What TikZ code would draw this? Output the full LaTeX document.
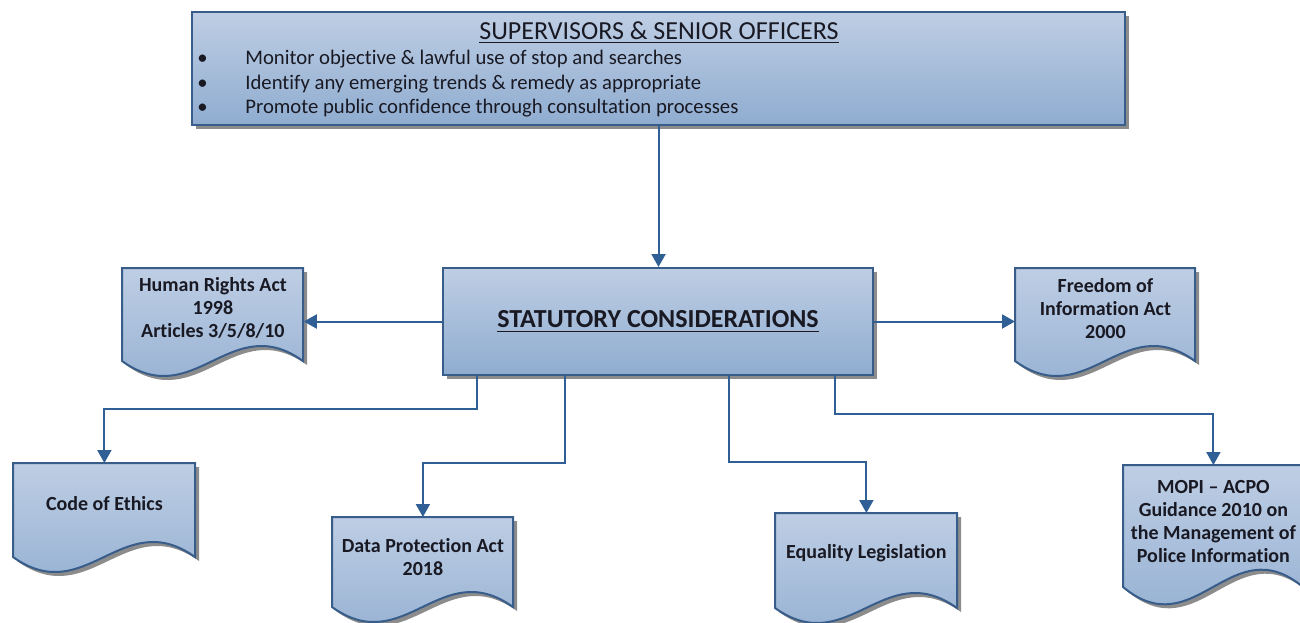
\documentclass[tikz,border=0pt]{standalone}
\usepackage{fontspec}
\setmainfont{Carlito}[Ligatures=NoCommon]
\usetikzlibrary{arrows.meta,shadows,backgrounds,calc}
\definecolor{bordc}{RGB}{56,93,138}
\definecolor{connc}{RGB}{47,95,148}
\definecolor{filltop}{RGB}{190,206,228}
\definecolor{fillbot}{RGB}{143,172,208}
\definecolor{shadc}{RGB}{140,140,140}
\definecolor{txtc}{RGB}{25,25,35}
\tikzset{
 boxfill/.style={top color=filltop,bottom color=fillbot,draw=bordc,line width=1pt},
 mainbox/.style={boxfill,drop shadow={shadow xshift=2pt,shadow yshift=-2pt,fill=shadc,opacity=1},inner sep=0pt,text=txtc},
 docnode/.style={inner sep=0pt,anchor=north west,align=center,text=txtc,font=\fontsize{10}{11.5}\selectfont\bfseries},
 conn/.style={draw=connc,line width=1pt,-{Triangle[width=7pt,length=6.5pt]}},
 bullettext/.style={anchor=west,font=\fontsize{10.35}{12}\selectfont,text=txtc,inner sep=0pt}
}
\newcommand\docbox[8]{%
 \begin{pgfonlayer}{background}
 \begin{scope}[shift={(#2,#3)}]
 \fill[shadc] (4,4) -- (4,{#5+4}) .. controls ({0.4*#4+4},{#5+#7+4}) and ({0.6*#4+4},{#5-#7+4}) .. ({#4+4},{#5+4}) -- ({#4+4},4) -- cycle;
 \shadedraw[boxfill] (0,0) -- (0,#5) .. controls ({0.4*#4},{#5+#7}) and ({0.6*#4},{#5-#7}) .. (#4,#5) -- (#4,0) -- cycle;
 \end{scope}
 \end{pgfonlayer}
 \node[docnode,minimum width={#4*0.5pt},minimum height={#6*0.5pt}] (#1) at (#2,#3) {#8};
}
\begin{document}
\begin{tikzpicture}[x=0.5pt,y=-0.5pt]
\useasboundingbox (0,0) rectangle (1300,622);
% top box
\node[mainbox,minimum width=466.5pt,minimum height=56.5pt] (top) at (658.5,68.5) {};
\node[font=\fontsize{13}{15}\selectfont,text=txtc,inner sep=0pt] (title) at (659,33) {\underline{SUPERVISORS \& SENIOR OFFICERS}};
\node[bullettext] (b1) at (197,59) {\makebox[24pt][l]{•}Monitor objective \& lawful use of stop and searches};
\node[bullettext] (b2) at (197,84) {\makebox[24pt][l]{•}Identify any emerging trends \& remedy as appropriate};
\node[bullettext] (b3) at (197,108) {\makebox[24pt][l]{•}Promote public confidence through consultation processes};
% statutory box
\node[mainbox,minimum width=215pt,minimum height=53.5pt,font=\fontsize{13}{15}\selectfont\bfseries] (stat) at (658,321.5) {\underline{STATUTORY CONSIDERATIONS}};
% documents
\docbox{human}{122}{268}{181}{93}{80}{52}{Human Rights Act\\1998\\Articles 3/5/8/10}
\docbox{freedom}{1015}{268}{180}{93}{80}{52}{Freedom of\\Information Act\\2000}
\docbox{ethics}{13}{463}{182}{94}{80}{52}{Code of Ethics}
\docbox{data}{332}{517}{181}{90}{80}{52}{Data Protection Act\\2018}
\docbox{equality}{775}{513}{182}{95}{80}{52}{Equality Legislation}
\docbox{mopi}{1123}{465}{180}{122}{112}{60}{MOPI -- ACPO\\Guidance 2010 on\\the Management of\\Police Information}
% connectors
\draw[conn] (top.south) -- (top.south |- stat.north);
\draw[conn] (stat.west) -- (stat.west -| human.east);
\draw[conn] (stat.east) -- (stat.east -| freedom.west);
\draw[conn] ($(stat.south west)+(35,0)$) -- ++(0,33) -| (ethics.north);
\draw[conn] ($(stat.south west)+(123,0)$) -- ++(0,87) -| (data.north);
\draw[conn] ($(stat.south west)+(287,0)$) -- ++(0,86) -| (equality.north);
\draw[conn] ($(stat.south west)+(393,0)$) -- ++(0,38) -| (mopi.north);
\end{tikzpicture}
\end{document}
